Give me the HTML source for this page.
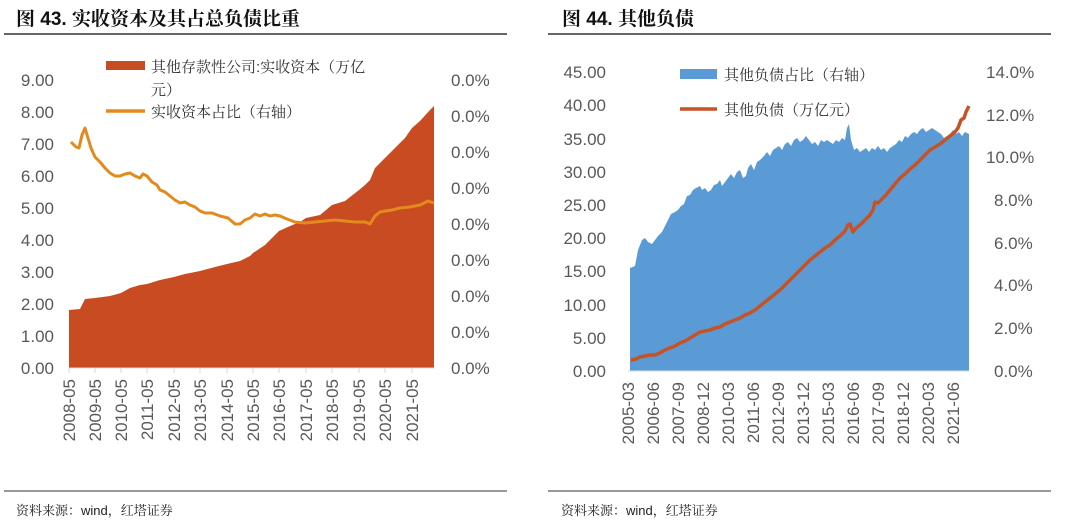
<!DOCTYPE html>
<html><head><meta charset="utf-8"><style>
body{margin:0;background:#fff;}
svg{display:block;font-family:"Liberation Sans","Noto Sans CJK SC",sans-serif;}
.t{font-family:"Liberation Sans","Noto Serif CJK SC",serif;}
.ax{font-size:17px;fill:#595959;}
</style></head><body>
<svg width="1080" height="523" viewBox="0 0 1080 523">
<!-- titles -->
<text x="16" y="25" font-size="19" font-weight="bold" fill="#111" class="t">图 43. 实收资本及其占总负债比重</text>
<line x1="4" y1="34" x2="507" y2="34" stroke="#333" stroke-width="1.5"/>
<text x="562" y="25" font-size="19" font-weight="bold" fill="#111" class="t">图 44. 其他负债</text>
<line x1="548" y1="34" x2="1051" y2="34" stroke="#333" stroke-width="1.5"/>
<line x1="4" y1="491" x2="507" y2="491" stroke="#333" stroke-width="1"/>
<line x1="548" y1="491" x2="1051" y2="491" stroke="#333" stroke-width="1"/>
<text x="16" y="515" font-size="13" fill="#222" class="t">资料来源：wind，红塔证券</text>
<text x="561" y="515" font-size="13" fill="#222" class="t">资料来源：wind，红塔证券</text>

<!-- LEFT CHART -->
<g class="ax" text-anchor="end">
<text x="54" y="86">9.00</text><text x="54" y="118">8.00</text><text x="54" y="150">7.00</text>
<text x="54" y="182">6.00</text><text x="54" y="214">5.00</text><text x="54" y="246">4.00</text>
<text x="54" y="278">3.00</text><text x="54" y="310">2.00</text><text x="54" y="342">1.00</text>
<text x="54" y="374">0.00</text>
</g>
<g class="ax">
<text x="451" y="86">0.0%</text><text x="451" y="122">0.0%</text><text x="451" y="158">0.0%</text>
<text x="451" y="194">0.0%</text><text x="451" y="230">0.0%</text><text x="451" y="266">0.0%</text>
<text x="451" y="302">0.0%</text><text x="451" y="338">0.0%</text><text x="451" y="374">0.0%</text>
</g>
<polygon fill="#C84B22" points="69,368 69,310 80,309 85,299 95,298 110,296 121,293 130,288 140,285 147,284 160,280 174,277 185,274 200,271 215,267 227,264 240,261 250,256 253,253 265,245 279,231 290,226 300,222 306,218 320,215 332,205 345,201 359,190 365,185 370,180 375,168 385,158 395,148 405,138 412,128 420,121 430,110 434,106 434,368"/>
<polyline fill="none" stroke="#E38A1D" stroke-width="3" stroke-linejoin="round" points="71,142 76,147 79,148 82,135 85,128 88,138 91,148 95,157 100,162 105,168 110,173 115,176 120,176 125,174 130,173 135,176 140,178 143,174 147,176 152,182 157,185 160,190 165,192 170,196 175,200 180,203 185,202 190,205 195,207 200,211 205,213 212,213 220,216 228,218 235,224 240,224 245,220 250,218 255,214 260,216 265,214 270,216 275,215 280,216 287,219 295,222 305,223 315,222 325,221 335,220 345,221 355,222 365,222 370,224 375,216 380,212 385,211 392,210 400,208 410,207 420,205 428,201 434,203"/>
<line x1="69" y1="368" x2="434" y2="368" stroke="#d9d9d9"/>
<g stroke="#d9d9d9">
<line x1="69" y1="368" x2="69" y2="373"/><line x1="95" y1="368" x2="95" y2="373"/><line x1="121" y1="368" x2="121" y2="373"/><line x1="147" y1="368" x2="147" y2="373"/><line x1="174" y1="368" x2="174" y2="373"/><line x1="200" y1="368" x2="200" y2="373"/><line x1="227" y1="368" x2="227" y2="373"/><line x1="253" y1="368" x2="253" y2="373"/><line x1="279" y1="368" x2="279" y2="373"/><line x1="306" y1="368" x2="306" y2="373"/><line x1="332" y1="368" x2="332" y2="373"/><line x1="359" y1="368" x2="359" y2="373"/><line x1="385" y1="368" x2="385" y2="373"/><line x1="412" y1="368" x2="412" y2="373"/>
</g>
<g class="ax" text-anchor="end">
<text transform="translate(75,379) rotate(-90)">2008-05</text>
<text transform="translate(101,379) rotate(-90)">2009-05</text>
<text transform="translate(127,379) rotate(-90)">2010-05</text>
<text transform="translate(153,379) rotate(-90)">2011-05</text>
<text transform="translate(180,379) rotate(-90)">2012-05</text>
<text transform="translate(206,379) rotate(-90)">2013-05</text>
<text transform="translate(233,379) rotate(-90)">2014-05</text>
<text transform="translate(259,379) rotate(-90)">2015-05</text>
<text transform="translate(285,379) rotate(-90)">2016-05</text>
<text transform="translate(312,379) rotate(-90)">2017-05</text>
<text transform="translate(338,379) rotate(-90)">2018-05</text>
<text transform="translate(365,379) rotate(-90)">2019-05</text>
<text transform="translate(391,379) rotate(-90)">2020-05</text>
<text transform="translate(418,379) rotate(-90)">2021-05</text>
</g>
<rect x="106" y="61" width="39" height="9" fill="#C84B22"/>
<text x="151" y="72" font-size="15" fill="#333" class="t">其他存款性公司:实收资本（万亿</text>
<text x="151" y="95" font-size="15" fill="#333" class="t">元）</text>
<line x1="106" y1="111" x2="145" y2="111" stroke="#E38A1D" stroke-width="3.5"/>
<text x="151" y="117" font-size="15" fill="#333" class="t">实收资本占比（右轴）</text>

<!-- RIGHT CHART -->
<g class="ax" text-anchor="end">
<text x="606" y="78">45.00</text><text x="606" y="111">40.00</text><text x="606" y="145">35.00</text>
<text x="606" y="178">30.00</text><text x="606" y="211">25.00</text><text x="606" y="244">20.00</text>
<text x="606" y="277">15.00</text><text x="606" y="311">10.00</text><text x="606" y="344">5.00</text>
<text x="606" y="377">0.00</text>
</g>
<g class="ax">
<text x="986" y="78">14.0%</text><text x="986" y="121">12.0%</text><text x="986" y="163">10.0%</text>
<text x="994" y="206">8.0%</text><text x="994" y="249">6.0%</text><text x="994" y="291">4.0%</text>
<text x="994" y="334">2.0%</text><text x="994" y="377">0.0%</text>
</g>
<polygon fill="#5B9BD5" points="630,371 630,268 635,266 638,250 642,240 645,238 648,242 652,244 655,240 658,236 662,232 665,226 668,220 671,214 675,212 678,210 681,206 684,204 687,196 690,195 693,190 696,188 700,186 702,190 705,188 708,192 711,190 714,185 717,184 720,180 722,186 725,182 728,178 731,174 734,178 737,172 740,170 743,178 746,176 748,168 751,164 754,170 757,162 760,160 764,156 767,152 770,156 773,150 776,148 779,146 782,150 785,144 788,142 791,146 794,140 797,138 800,142 803,140 806,136 809,140 812,144 815,142 818,146 821,140 824,142 827,140 830,142 833,144 836,140 839,142 842,138 845,140 847,128 849,124 851,140 854,150 857,148 860,152 863,150 866,148 869,152 872,148 875,150 878,146 881,150 884,148 887,152 890,148 893,146 896,144 899,140 902,142 905,136 908,138 911,134 914,132 917,134 920,130 923,128 926,132 929,130 932,128 935,130 938,132 941,134 944,138 947,136 950,134 953,130 956,134 959,132 962,136 965,132 969,134 969,371"/>
<polyline fill="none" stroke="#C65226" stroke-width="3.5" stroke-linejoin="round" points="631,360 636,359 640,357 645,356 650,355 655,355 660,353 665,350 670,348 675,346 680,343 685,341 690,338 695,335 700,332 705,331 710,330 715,328 720,327 725,324 730,322 735,320 740,318 745,315 750,313 755,310 760,306 765,302 770,298 775,294 780,290 785,285 790,280 795,275 800,270 805,265 810,260 815,256 820,252 825,248 830,245 835,240 840,236 845,231 848,225 850,224 853,232 856,228 860,225 865,220 870,215 873,210 875,202 878,203 882,199 886,195 890,190 895,184 900,178 905,174 910,169 915,165 920,160 925,155 930,150 935,147 940,144 945,140 950,136 955,132 958,128 961,120 964,118 966,112 969,106"/>
<line x1="628" y1="371" x2="969" y2="371" stroke="#d9d9d9"/>
<g class="ax" text-anchor="end">
<text transform="translate(634,382) rotate(-90)">2005-03</text>
<text transform="translate(659,382) rotate(-90)">2006-06</text>
<text transform="translate(684,382) rotate(-90)">2007-09</text>
<text transform="translate(709,382) rotate(-90)">2008-12</text>
<text transform="translate(734,382) rotate(-90)">2010-03</text>
<text transform="translate(759,382) rotate(-90)">2011-06</text>
<text transform="translate(784,382) rotate(-90)">2012-09</text>
<text transform="translate(809,382) rotate(-90)">2013-12</text>
<text transform="translate(834,382) rotate(-90)">2015-03</text>
<text transform="translate(859,382) rotate(-90)">2016-06</text>
<text transform="translate(884,382) rotate(-90)">2017-09</text>
<text transform="translate(909,382) rotate(-90)">2018-12</text>
<text transform="translate(934,382) rotate(-90)">2020-03</text>
<text transform="translate(959,382) rotate(-90)">2021-06</text>
</g>
<rect x="680" y="69" width="37" height="10" fill="#5B9BD5"/>
<text x="724" y="80" font-size="15" fill="#333" class="t">其他负债占比（右轴）</text>
<line x1="680" y1="109" x2="717" y2="109" stroke="#C65226" stroke-width="3.5"/>
<text x="724" y="115" font-size="15" fill="#333" class="t">其他负债（万亿元）</text>
</svg>
</body></html>
